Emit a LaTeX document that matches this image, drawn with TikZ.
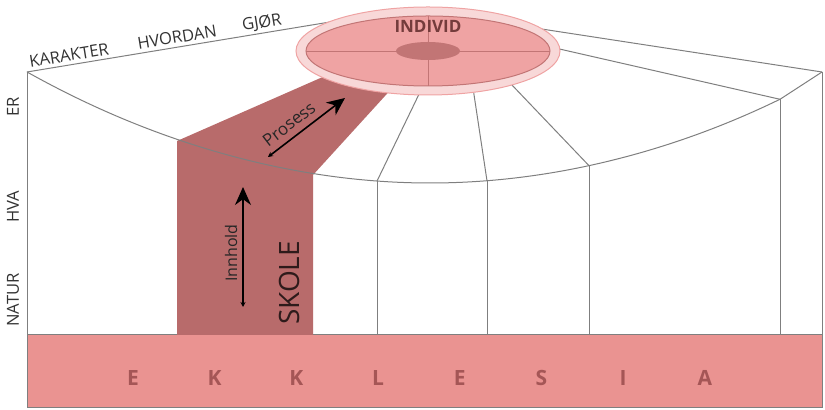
\documentclass[tikz,border=0pt]{standalone}
\usepackage{fontspec}
\setmainfont{Open Sans}
\usetikzlibrary{arrows.meta}
\definecolor{ekkl}{HTML}{EA9391}
\definecolor{skole}{HTML}{B86B6B}
\definecolor{ring}{HTML}{F8D8D8}
\definecolor{indiv}{HTML}{EFA3A3}
\definecolor{kjerne}{HTML}{C27575}
\definecolor{brun}{HTML}{A55656}
\definecolor{strek}{HTML}{7F7F7F}
\definecolor{tekst}{HTML}{333333}
\begin{document}
\begin{tikzpicture}[x=0.5pt,y=-0.5pt,
  linje/.style={strek,line width=0.5pt},
  etikett/.style={text=tekst,inner sep=0pt,font=\fontsize{8.3}{9}\selectfont},
  bokstav/.style={text=brun,inner sep=0pt,font=\fontsize{10.5}{12}\selectfont\bfseries},
  pil/.style={line width=0.8pt,{Stealth[length=2.5pt,width=2.5pt]}-{Stealth[length=9pt,width=8pt]}}]
\useasboundingbox (0,0) rectangle (825,410);
% hjørner og punkter på buen
\coordinate (tl) at (27,72);
\coordinate (tr) at (822,72);
\coordinate (a1) at (177,141);
\coordinate (a2) at (313,175);
\coordinate (a3) at (377,181.1);
\coordinate (a4) at (487,180.8);
\coordinate (a5) at (589,165.7);
\coordinate (a6) at (780,99.3);
% ekklesia
\fill[ekkl] (27,335) rectangle (822,408);
\draw[linje] (27,335) rectangle (822,408);
% skole
\fill[skole] (a1) -- (325,76) -- (395,85) -- (a2) -- (313,335) -- (177,335) -- cycle;
% ramme og linjer
\draw[linje] (tl) -- (27,335);
\draw[linje] (tr) -- (822,335);
\draw[linje] (tl) -- (330,22);
\draw[linje] (535,28) -- (tr);
\draw[linje] (tl) parabola bend (430,183) (a6);
\draw[linje] (a6) -- (tr);
\draw[linje] (555,48) -- (a6);
\draw[linje] (a3) -- (422,88);
\draw[linje] (a4) -- (473,88);
\draw[linje] (a5) -- (511,84);
\foreach \p in {a3,a4,a5,a6}
  \draw[linje] (\p) -- (\p |- 0,335);
% individ
\fill[ring,draw=indiv,line width=0.5pt] (428,51) ellipse [x radius=132, y radius=44];
\fill[indiv,draw=kjerne,line width=0.5pt] (428,51) ellipse [x radius=122, y radius=35];
\fill[kjerne] (428,51) ellipse [x radius=32, y radius=9];
\draw[kjerne,line width=0.4pt] (306,51) -- (550,51);
\draw[kjerne,line width=0.4pt] (428,16) -- (428,86);
\node[text=brun!70!black,inner sep=0pt,font=\fontsize{8.5}{9}\selectfont\bfseries] (individ) at (428,26) {INDIVID};
% etiketter oppe
\node[etikett,rotate=9.3] (karakter) at (69,55) {KARAKTER};
\node[etikett,rotate=9.3] (hvordan) at (177,37) {HVORDAN};
\node[etikett,rotate=9.3] (gjor) at (262,23) {GJØR};
% etiketter til venstre
\node[etikett,rotate=90] (er) at (13,107) {ER};
\node[etikett,rotate=90] (hva) at (13,207) {HVA};
\node[etikett,rotate=90] (natur) at (13,300) {NATUR};
% piler
\coordinate (inn0) at (243,307);
\coordinate (inn1) at (243,187);
\draw[pil] (inn0) -- (inn1);
\node[inner sep=0pt,rotate=90,text=black!85,font=\fontsize{8}{9}\selectfont] (innhold) at (231,253) {Innhold};
\coordinate (pro0) at (268,157);
\coordinate (pro1) at (345,98);
\draw[pil] (pro0) -- (pro1);
\node[inner sep=0pt,rotate=37.5,text=black!85,font=\fontsize{8.5}{9}\selectfont] (prosess) at (289,124) {Prosess};
\node[inner sep=0pt,rotate=90,text=black!75!skole,font=\fontsize{14}{15}\selectfont] (skole) at (289,283) {SKOLE};
% bokstaver
\foreach \b [count=\i from 0] in {E,K,K,L,E,S,I,A}
  \node[bokstav] (e\i) at ({133+81.7*\i},378) {\b};
\end{tikzpicture}
\end{document}
